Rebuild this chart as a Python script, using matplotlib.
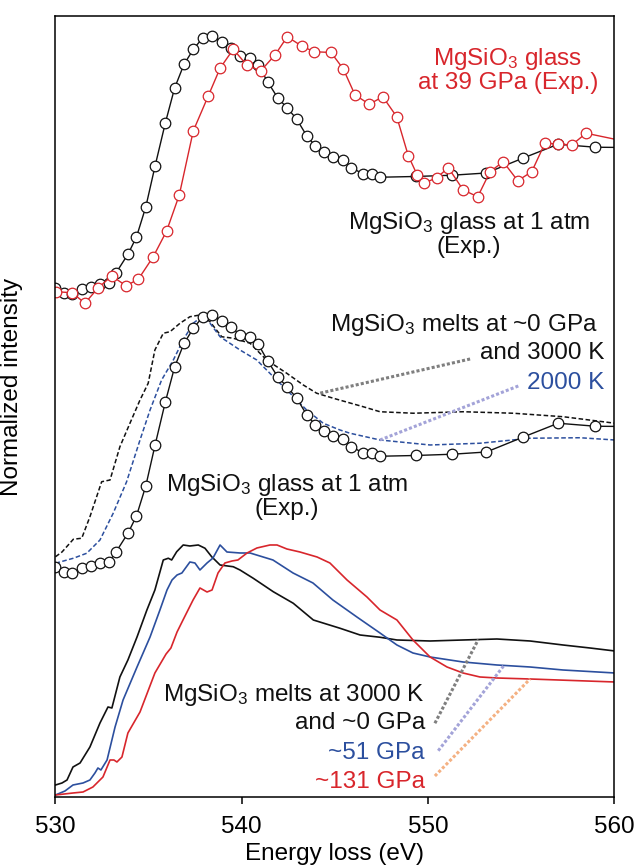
import numpy as np
import matplotlib
matplotlib.use("Agg")
import matplotlib.pyplot as plt

plt.rcParams['font.family'] = ['Liberation Sans', 'DejaVu Sans']
plt.rcParams['mathtext.fontset'] = 'custom'
plt.rcParams['mathtext.rm'] = 'Liberation Sans'
plt.rcParams['mathtext.default'] = 'regular'

# O K-edge spectra, each normalized to ~1 at the main peak
glass_1atm_e = [530.0, 530.45, 530.9, 531.4, 531.9, 532.4, 532.85, 533.25, 533.9, 534.35,
                534.85, 535.35, 535.9, 536.4, 536.9, 537.4, 537.9, 538.4, 538.95, 539.45,
                539.9, 540.45, 540.9, 541.4, 541.95, 542.45, 542.95, 543.5, 543.95, 544.4,
                544.9, 545.45, 545.9, 546.5, 547.0, 547.45, 549.35, 551.3, 553.15, 555.1,
                557.0, 559.0, 560.5]
glass_1atm_i = [0.013, -0.008, -0.012, 0.008, 0.016, 0.026, 0.030, 0.072, 0.148, 0.216,
                0.336, 0.500, 0.672, 0.812, 0.906, 0.966, 1.012, 1.020, 0.996, 0.972,
                0.940, 0.930, 0.902, 0.836, 0.771, 0.732, 0.688, 0.620, 0.581, 0.556,
                0.536, 0.525, 0.493, 0.469, 0.467, 0.455, 0.458, 0.463, 0.472, 0.531,
                0.587, 0.575, 0.574]

glass_39gpa_e = [530.05, 530.9, 531.58, 532.3, 533.02, 533.79, 534.45, 535.25, 535.97, 536.65,
                 537.4, 538.21, 538.84, 539.55, 540.27, 541.02, 541.79, 542.45, 543.22, 543.89,
                 544.8, 545.46, 546.09, 546.86, 547.58, 548.33, 548.95, 549.43, 549.79, 550.48,
                 551.1, 551.9, 552.68, 553.34, 554.05, 554.83, 555.58, 556.29, 557.01, 557.73,
                 558.5, 560.5]
glass_39gpa_i = [-0.003, -0.007, -0.049, 0.013, 0.060, 0.021, 0.047, 0.137, 0.240, 0.384,
                 0.640, 0.781, 0.891, 0.967, 0.904, 0.880, 0.944, 1.017, 0.980, 0.957,
                 0.954, 0.888, 0.784, 0.747, 0.777, 0.697, 0.541, 0.464, 0.431, 0.453,
                 0.493, 0.404, 0.377, 0.477, 0.517, 0.441, 0.477, 0.591, 0.588, 0.584,
                 0.631, 0.600]

melt_0gpa_3000k_e = [530.0, 530.35, 530.96, 531.41, 531.85, 532.48, 532.93, 533.46, 534.0, 534.54,
                     534.98, 535.34, 535.79, 536.15, 536.69, 537.22, 537.76, 538.3, 538.93, 539.55,
                     540.45, 541.34, 542.42, 543.31, 544.03, 544.92, 546.53, 547.43, 549.22, 551.9,
                     554.59, 557.28, 560.05]
melt_0gpa_3000k_i = [0.053, 0.072, 0.123, 0.127, 0.213, 0.353, 0.360, 0.493, 0.587, 0.680,
                     0.747, 0.880, 0.947, 0.953, 0.987, 1.013, 1.020, 0.993, 0.933, 0.927,
                     0.907, 0.840, 0.787, 0.740, 0.707, 0.687, 0.653, 0.633, 0.627, 0.633,
                     0.627, 0.613, 0.587]

melt_0gpa_2000k_e = [530.0, 530.96, 531.68, 532.39, 533.1, 533.82, 534.54, 535.08, 535.7, 536.33,
                     536.86, 537.4, 537.85, 538.3, 538.84, 539.91, 540.81, 541.7, 542.6, 543.49,
                     544.38, 545.28, 545.82, 547.43, 550.12, 552.8, 555.49, 558.17, 560.05]
melt_0gpa_2000k_i = [0.027, 0.047, 0.067, 0.120, 0.227, 0.353, 0.520, 0.640, 0.760, 0.840,
                     0.920, 0.987, 1.013, 0.987, 0.933, 0.880, 0.840, 0.773, 0.707, 0.640,
                     0.587, 0.560, 0.547, 0.520, 0.500, 0.507, 0.527, 0.529, 0.520]

melt_3000k_0gpa_e = [530.0, 530.35, 530.62, 530.94, 531.32, 531.85, 532.39, 532.82, 533.03, 533.46,
                     533.89, 534.38, 534.91, 535.34, 535.61, 535.79, 536.06, 536.24, 536.51, 536.86,
                     537.22, 537.67, 538.03, 538.39, 538.84, 539.55, 539.91, 540.62, 541.7, 542.77,
                     543.85, 545.28, 546.36, 547.43, 548.34, 550.12, 551.89, 553.71, 555.49, 557.26,
                     558.71, 560.05]
melt_3000k_0gpa_i = [0.048, 0.056, 0.068, 0.120, 0.136, 0.200, 0.296, 0.360, 0.356, 0.480,
                     0.548, 0.640, 0.748, 0.828, 0.900, 0.948, 0.955, 0.948, 0.981, 1.008,
                     1.004, 1.008, 0.995, 0.961, 0.928, 0.921, 0.908, 0.875, 0.821, 0.775,
                     0.708, 0.675, 0.648, 0.639, 0.628, 0.624, 0.628, 0.632, 0.624, 0.608,
                     0.596, 0.584]

melt_51gpa_e = [530.0, 530.51, 530.94, 531.48, 531.85, 532.12, 532.28, 532.44, 532.77, 533.2,
                533.63, 534.38, 535.08, 535.61, 535.99, 536.26, 536.53, 536.79, 537.22, 537.49,
                537.76, 538.14, 538.46, 538.84, 539.21, 539.91, 540.45, 541.68, 542.76, 543.83,
                544.9, 546.19, 547.43, 548.34, 549.2, 550.12, 551.89, 553.71, 555.49, 557.26,
                560.05]
melt_51gpa_i = [0.008, 0.024, 0.048, 0.056, 0.068, 0.096, 0.116, 0.108, 0.148, 0.280,
                0.388, 0.520, 0.640, 0.748, 0.828, 0.868, 0.888, 0.896, 0.940, 0.936,
                0.908, 0.936, 0.956, 1.008, 0.980, 0.976, 0.976, 0.948, 0.896, 0.856,
                0.788, 0.720, 0.656, 0.608, 0.576, 0.560, 0.540, 0.528, 0.520, 0.508,
                0.496]

melt_131gpa_e = [530.0, 530.94, 531.48, 532.01, 532.55, 532.93, 533.14, 533.3, 533.57, 533.89,
                 534.54, 535.34, 535.94, 536.2, 536.53, 536.85, 537.39, 537.76, 538.14, 538.41,
                 538.73, 539.1, 539.48, 539.8, 540.29, 540.82, 541.52, 541.9, 542.43, 543.13,
                 544.05, 544.74, 545.66, 546.73, 547.43, 548.34, 549.2, 550.12, 551.03, 551.89,
                 552.8, 553.71, 555.49, 560.05]
melt_131gpa_i = [0.008, 0.016, 0.020, 0.040, 0.080, 0.148, 0.148, 0.140, 0.160, 0.256,
                 0.340, 0.496, 0.572, 0.596, 0.660, 0.708, 0.788, 0.836, 0.820, 0.828,
                 0.896, 0.936, 0.944, 0.948, 0.976, 0.996, 1.008, 1.008, 0.992, 0.980,
                 0.960, 0.936, 0.868, 0.800, 0.748, 0.708, 0.628, 0.560, 0.520, 0.496,
                 0.480, 0.476, 0.472, 0.460]

# vertical stacking of the three groups
offset_top, offset_mid, offset_bot = 2.024, 0.908, 0.0

BLACK = '#111111'
RED = '#d8262c'
BLUE = '#2c4f9e'

fig = plt.figure(figsize=(6.37, 8.68), dpi=100)
ax = fig.add_axes([0.0871, 0.0818, 0.8768, 0.8998])

def shifted(vals, off):
    return np.asarray(vals) + off

mk = dict(marker='o', markersize=7.6, markerfacecolor='white', markeredgewidth=0.9, lw=1.0)

# top: experimental glass at 1 atm and 39 GPa
ax.plot(glass_1atm_e, shifted(glass_1atm_i, offset_top), color=BLACK, markeredgecolor=BLACK, **mk)
ax.plot(glass_39gpa_e, shifted(glass_39gpa_i, offset_top), color=RED, markeredgecolor=RED, **mk)

# middle: simulated melts at ~0 GPa vs experimental glass
ax.plot(melt_0gpa_3000k_e, shifted(melt_0gpa_3000k_i, offset_mid), color=BLACK, lw=1.1,
        ls=(0, (3, 1.6)))
ax.plot(melt_0gpa_2000k_e, shifted(melt_0gpa_2000k_i, offset_mid), color=BLUE, lw=1.1,
        ls=(0, (3, 1.6)))
ax.plot(glass_1atm_e, shifted(glass_1atm_i, offset_mid), color=BLACK, markeredgecolor=BLACK, **mk)

# bottom: simulated melts at 3000 K under pressure
ax.plot(melt_3000k_0gpa_e, shifted(melt_3000k_0gpa_i, offset_bot), color=BLACK, lw=1.2)
ax.plot(melt_51gpa_e, shifted(melt_51gpa_i, offset_bot), color=BLUE, lw=1.2)
ax.plot(melt_131gpa_e, shifted(melt_131gpa_i, offset_bot), color=RED, lw=1.2)

fs = 17.5
ax.text(554.3, 2.908, 'MgSiO$_3$ glass\nat 39 GPa (Exp.)', color=RED, fontsize=fs,
        ha='center', va='center', linespacing=1.0)
ax.text(552.2, 2.252, 'MgSiO$_3$ glass at 1 atm\n(Exp.)', color=BLACK, fontsize=fs,
        ha='center', va='center', linespacing=1.0)
ax.text(559.1, 1.888, 'MgSiO$_3$ melts at ~0 GPa', color=BLACK, fontsize=fs, ha='right', va='center')
ax.text(559.5, 1.776, 'and 3000 K', color=BLACK, fontsize=fs, ha='right', va='center')
ax.text(559.5, 1.656, '2000 K', color=BLUE, fontsize=fs, ha='right', va='center')
ax.text(542.43, 1.204, 'MgSiO$_3$ glass at 1 atm\n(Exp.)', color=BLACK, fontsize=fs,
        ha='center', va='center', linespacing=1.0)
ax.text(549.84, 0.408, 'MgSiO$_3$ melts at 3000 K', color=BLACK, fontsize=fs, ha='right', va='center')
ax.text(549.84, 0.296, 'and ~0 GPa', color=BLACK, fontsize=fs, ha='right', va='center')
ax.text(549.84, 0.176, '~51 GPa', color=BLUE, fontsize=fs, ha='right', va='center')
ax.text(549.84, 0.060, '~131 GPa', color=RED, fontsize=fs, ha='right', va='center')

# dotted leaders: label end (x, y) -> point on the named curve at energy x1
GRAY, LILAC, PEACH = '#7f7f7f', '#a3a3d8', '#f4b183'
leaders = [
    ((552.27, 1.752), 544.1, melt_0gpa_3000k_e, melt_0gpa_3000k_i, offset_mid, GRAY),
    ((554.86, 1.644), 547.43, melt_0gpa_2000k_e, melt_0gpa_2000k_i, offset_mid, LILAC),
    ((550.38, 0.295), 552.71, melt_3000k_0gpa_e, melt_3000k_0gpa_i, offset_bot, GRAY),
    ((550.56, 0.185), 554.09, melt_51gpa_e, melt_51gpa_i, offset_bot, LILAC),
    ((550.38, 0.084), 555.49, melt_131gpa_e, melt_131gpa_i, offset_bot, PEACH),
]
for (x0, y0), x1, ee, ii, off, c in leaders:
    y1 = np.interp(x1, ee, ii) + off
    ax.plot([x0, x1], [y0, y1], color=c, lw=2.2, ls=(0, (1.0, 0.7)))

ax.set_xlim(530, 560)
ax.set_ylim(0, 3.124)
ax.set_xticks([530, 540, 550, 560])
ax.set_yticks([])
ax.tick_params(axis='x', direction='out', length=5, width=1.1, labelsize=fs, pad=9)
for s in ax.spines.values():
    s.set_linewidth(1.1)
ax.set_xlabel('Energy loss (eV)', fontsize=fs, labelpad=3)
ax.set_ylabel('Normalized intensity', fontsize=fs)
ax.yaxis.set_label_coords(-0.059, 0.525)

fig.savefig('out.png', dpi=100)
